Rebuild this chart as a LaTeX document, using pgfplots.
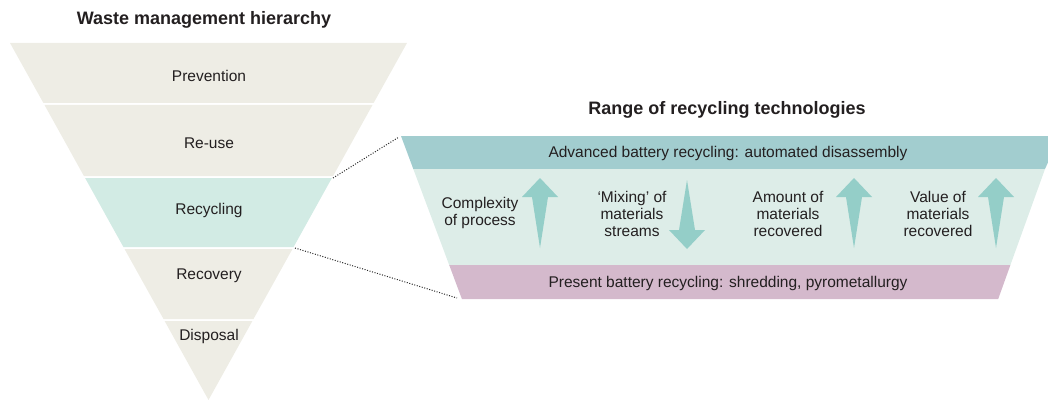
\documentclass[border=0pt]{standalone}
\usepackage{fontspec}
\setmainfont{Liberation Sans}
\usepackage{pgfplots}
\pgfplotsset{compat=1.18}
\definecolor{beige}{HTML}{EEEDE5}
\definecolor{mint}{HTML}{D2EBE4}
\definecolor{tealband}{HTML}{A2CDCF}
\definecolor{midband}{HTML}{DDEDE8}
\definecolor{pinkband}{HTML}{D4B9CC}
\definecolor{arrowc}{HTML}{94CEC8}
\definecolor{txt}{HTML}{231F20}
\tikzset{lbl/.style={text=txt, font=\fontsize{15.5}{17}\selectfont, align=center, inner sep=0pt},
         ttl/.style={text=txt, font=\fontsize{18}{19}\selectfont\bfseries, inner sep=0pt}}
\begin{document}
\begin{tikzpicture}
\begin{axis}[
  width=1048pt, height=401pt, scale only axis, hide axis,
  xmin=0, xmax=1048, ymin=0, ymax=401, y dir=reverse,
  clip=true,
]
% bounding box helper
\addplot[draw=none] coordinates {(0,0) (1048,401)};
% left inverted triangle bands
\addplot[fill=beige, draw=none] coordinates {(10,43) (407,43) (373.6,103) (43.4,103)} -- cycle;
\addplot[fill=beige, draw=none] coordinates {(44.5,105) (372.5,105) (333.1,176) (83.9,176)} -- cycle;
\addplot[fill=mint, draw=none] coordinates {(85.1,178) (331.9,178) (293.6,247) (123.4,247)} -- cycle;
\addplot[fill=beige, draw=none] coordinates {(124.5,249) (292.5,249) (253.5,319) (163.5,319)} -- cycle;
\addplot[fill=beige, draw=none] coordinates {(164.6,321) (252.4,321) (208.5,400)} -- cycle;
% right trapezoid
\addplot[fill=tealband, draw=none] coordinates {(401,136) (1060,136) (1045,169) (413.3,169)} -- cycle;
\addplot[fill=midband, draw=none] coordinates {(413.3,169) (1045,169) (1010.4,265) (449.2,265)} -- cycle;
\addplot[fill=pinkband, draw=none] coordinates {(449.2,265) (1010.4,265) (998.2,299) (461.9,299)} -- cycle;
% arrows (up)
\addplot[fill=arrowc, draw=none] coordinates {(540,178) (558,197) (548,197) (540,248) (532,197) (522,197)} -- cycle;
\addplot[fill=arrowc, draw=none] coordinates {(854,178) (872,197) (862,197) (854,248) (846,197) (836,197)} -- cycle;
\addplot[fill=arrowc, draw=none] coordinates {(996,178) (1014,197) (1004,197) (996,248) (988,197) (978,197)} -- cycle;
% arrow (down)
\addplot[fill=arrowc, draw=none] coordinates {(687,180) (695,230) (705,230) (687,249) (669,230) (679,230)} -- cycle;
% dotted connectors
\addplot[black!85, line width=1pt, dash pattern=on 1pt off 1.6pt] coordinates {(333,178) (399,137)};
\addplot[black!85, line width=1pt, dash pattern=on 1pt off 1.6pt] coordinates {(295,248) (457,298)};
% titles
\node[ttl] at (axis cs:204,20) {Waste management hierarchy};
\node[ttl] at (axis cs:727,110) {Range of recycling technologies};
% left labels
\node[lbl] at (axis cs:209,76) {Prevention};
\node[lbl] at (axis cs:209,143) {Re-use};
\node[lbl] at (axis cs:209,210) {Recycling};
\node[lbl] at (axis cs:209,276) {Recovery};
\node[lbl] at (axis cs:209,336) {Disposal};
% right labels
\node[lbl] at (axis cs:728,153) {Advanced battery recycling: automated disassembly};
\node[lbl] at (axis cs:728,283) {Present battery recycling: shredding, pyrometallurgy};
\node[lbl] at (axis cs:480,213) {Complexity\\of process};
\node[lbl] at (axis cs:632,214) {‘Mixing’ of\\materials\\streams};
\node[lbl] at (axis cs:788,214) {Amount of\\materials\\recovered};
\node[lbl] at (axis cs:938,214) {Value of\\materials\\recovered};
\end{axis}
\end{tikzpicture}
\end{document}
